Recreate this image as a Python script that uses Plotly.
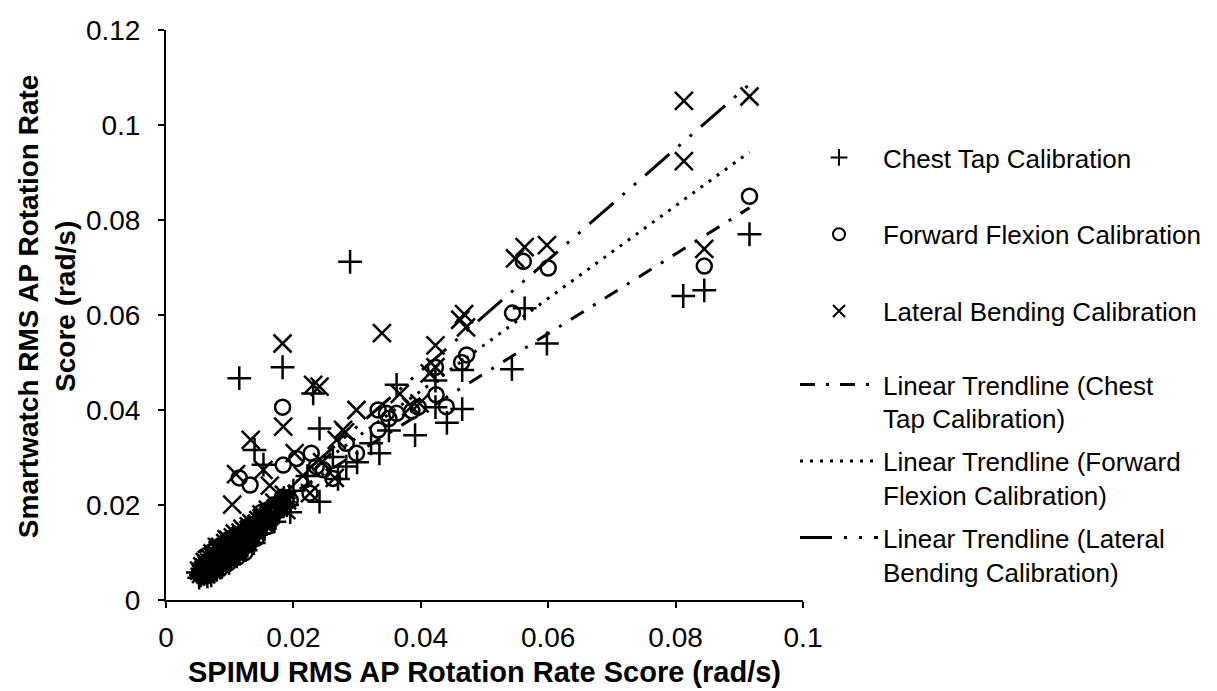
import plotly.graph_objects as go

# ---------------- data ----------------
chest_x = [0.0289, 0.0916, 0.0812, 0.0845, 0.0563, 0.0598, 0.0543, 0.0465, 0.0465, 0.0441,
           0.0391, 0.0335, 0.0183, 0.0115, 0.0231, 0.0241, 0.0350, 0.0423, 0.0362, 0.0423,
           0.0241, 0.0139, 0.0153, 0.0222, 0.0262, 0.0283, 0.0185, 0.0172, 0.0160, 0.0148,
           0.0200, 0.0270, 0.0300, 0.0322,
           0.0055, 0.0058, 0.0060, 0.0062, 0.0063, 0.0065, 0.0066, 0.0068, 0.0069, 0.0070,
           0.0072, 0.0073, 0.0075, 0.0076, 0.0078, 0.0079, 0.0080, 0.0082, 0.0083, 0.0085,
           0.0086, 0.0088, 0.0090, 0.0091, 0.0093, 0.0095, 0.0097, 0.0099, 0.0101, 0.0103,
           0.0106, 0.0109, 0.0112, 0.0115, 0.0118, 0.0122, 0.0126, 0.0130,
           0.0060, 0.0065, 0.0070, 0.0074, 0.0078, 0.0083, 0.0088, 0.0092, 0.0096, 0.0100,
           0.0104, 0.0108, 0.0113, 0.0118, 0.0123, 0.0128, 0.0134, 0.0140, 0.0146, 0.0152,
           0.0158, 0.0165, 0.0175, 0.0190, 0.0057, 0.0068, 0.0087,
           0.0050, 0.0052, 0.0064, 0.0071, 0.0080, 0.0085, 0.0094, 0.0099, 0.0107, 0.0111,
           0.0120, 0.0125, 0.0133, 0.0138, 0.0145, 0.0155, 0.0162, 0.0170, 0.0180, 0.0195]
chest_y = [0.0712, 0.0770, 0.0640, 0.0652, 0.0614, 0.0540, 0.0486, 0.0484, 0.0402, 0.0373,
           0.0347, 0.0309, 0.0490, 0.0467, 0.0435, 0.0361, 0.0357, 0.0462, 0.0453, 0.0406,
           0.0207, 0.0316, 0.0285, 0.0261, 0.0301, 0.0281, 0.0215, 0.0195, 0.0178, 0.0170,
           0.0230, 0.0255, 0.0290, 0.0330,
           0.0052, 0.0060, 0.0055, 0.0066, 0.0058, 0.0070, 0.0062, 0.0075, 0.0066, 0.0080,
           0.0071, 0.0085, 0.0077, 0.0068, 0.0090, 0.0081, 0.0074, 0.0094, 0.0086, 0.0079,
           0.0098, 0.0090, 0.0102, 0.0084, 0.0095, 0.0108, 0.0100, 0.0112, 0.0094, 0.0115,
           0.0108, 0.0120, 0.0113, 0.0126, 0.0118, 0.0132, 0.0124, 0.0140,
           0.0072, 0.0050, 0.0058, 0.0093, 0.0066, 0.0100, 0.0075, 0.0110, 0.0086, 0.0122,
           0.0098, 0.0130, 0.0104, 0.0138, 0.0115, 0.0150, 0.0130, 0.0155, 0.0140, 0.0168,
           0.0160, 0.0175, 0.0185, 0.0200, 0.0066, 0.0083, 0.0105,
           0.0058, 0.0047, 0.0080, 0.0052, 0.0103, 0.0068, 0.0118, 0.0078, 0.0125, 0.0092,
           0.0145, 0.0105, 0.0152, 0.0120, 0.0162, 0.0150, 0.0185, 0.0165, 0.0205, 0.0185]

flex_x = [0.0916, 0.0845, 0.0561, 0.0600, 0.0544, 0.0472, 0.0464, 0.0423, 0.0440, 0.0424,
          0.0396, 0.0386, 0.0362, 0.0346, 0.0333, 0.0333, 0.0350, 0.0183, 0.0299, 0.0283,
          0.0228, 0.0205, 0.0184, 0.0236, 0.0247, 0.0262, 0.0226, 0.0115, 0.0132, 0.0153,
          0.0163, 0.0150, 0.0183, 0.0170, 0.0160,
          0.0056, 0.0059, 0.0061, 0.0063, 0.0065, 0.0067, 0.0069, 0.0071, 0.0073, 0.0075,
          0.0077, 0.0079, 0.0081, 0.0083, 0.0085, 0.0087, 0.0089, 0.0092, 0.0094, 0.0097,
          0.0100, 0.0103, 0.0106, 0.0110, 0.0113, 0.0117, 0.0121, 0.0125, 0.0129, 0.0134,
          0.0140, 0.0145,
          0.0060, 0.0066, 0.0072, 0.0077, 0.0082, 0.0087, 0.0092, 0.0097, 0.0102, 0.0108,
          0.0114, 0.0120, 0.0126, 0.0132, 0.0138, 0.0150, 0.0155, 0.0160, 0.0175, 0.0058,
          0.0080,
          0.0052, 0.0062, 0.0070, 0.0078, 0.0085, 0.0090, 0.0098, 0.0105, 0.0112, 0.0118,
          0.0124, 0.0135, 0.0142, 0.0148, 0.0158, 0.0168, 0.0185, 0.0195]
flex_y = [0.0850, 0.0703, 0.0713, 0.0699, 0.0604, 0.0516, 0.0500, 0.0490, 0.0407, 0.0432,
          0.0406, 0.0398, 0.0393, 0.0393, 0.0400, 0.0358, 0.0382, 0.0406, 0.0309, 0.0330,
          0.0309, 0.0298, 0.0284, 0.0281, 0.0274, 0.0256, 0.0225, 0.0257, 0.0242, 0.0168,
          0.0165, 0.0185, 0.0217, 0.0200, 0.0190,
          0.0050, 0.0057, 0.0063, 0.0055, 0.0068, 0.0061, 0.0072, 0.0065, 0.0078, 0.0070,
          0.0083, 0.0075, 0.0088, 0.0080, 0.0093, 0.0085, 0.0097, 0.0090, 0.0102, 0.0095,
          0.0107, 0.0100, 0.0112, 0.0106, 0.0118, 0.0112, 0.0124, 0.0119, 0.0131, 0.0137,
          0.0150, 0.0156,
          0.0070, 0.0052, 0.0087, 0.0066, 0.0098, 0.0076, 0.0108, 0.0085, 0.0118, 0.0095,
          0.0128, 0.0108, 0.0140, 0.0122, 0.0142, 0.0160, 0.0172, 0.0155, 0.0190, 0.0062,
          0.0070,
          0.0055, 0.0078, 0.0054, 0.0095, 0.0066, 0.0115, 0.0078, 0.0125, 0.0090, 0.0135,
          0.0100, 0.0150, 0.0130, 0.0170, 0.0165, 0.0178, 0.0195, 0.0210]

lat_x = [0.0813, 0.0916, 0.0813, 0.0845, 0.0548, 0.0563, 0.0598, 0.0462, 0.0468, 0.0471,
         0.0339, 0.0183, 0.0423, 0.0231, 0.0241, 0.0184, 0.0299, 0.0423, 0.0133, 0.0110,
         0.0104, 0.0281, 0.0268, 0.0385, 0.0398, 0.0414, 0.0367, 0.0265, 0.0226, 0.0202,
         0.0163, 0.0153, 0.0189, 0.0278, 0.0160, 0.0170, 0.0185, 0.0215, 0.0245,
         0.0055, 0.0058, 0.0060, 0.0062, 0.0064, 0.0066, 0.0068, 0.0070, 0.0072, 0.0074,
         0.0076, 0.0078, 0.0080, 0.0082, 0.0084, 0.0086, 0.0089, 0.0091, 0.0094, 0.0097,
         0.0100, 0.0103, 0.0106, 0.0110, 0.0113, 0.0117, 0.0121, 0.0126, 0.0131, 0.0137,
         0.0143, 0.0150,
         0.0057, 0.0063, 0.0069, 0.0075, 0.0081, 0.0087, 0.0093, 0.0099, 0.0105, 0.0111,
         0.0117, 0.0123, 0.0130, 0.0136, 0.0145, 0.0155, 0.0165, 0.0178, 0.0080, 0.0095,
         0.0052, 0.0061, 0.0067, 0.0073, 0.0079, 0.0085, 0.0090, 0.0098, 0.0102, 0.0108,
         0.0114, 0.0120, 0.0127, 0.0134, 0.0140, 0.0150, 0.0160, 0.0172, 0.0190]
lat_y = [0.1051, 0.1060, 0.0924, 0.0739, 0.0719, 0.0743, 0.0747, 0.0590, 0.0602, 0.0574,
         0.0562, 0.0540, 0.0536, 0.0453, 0.0449, 0.0365, 0.0400, 0.0490, 0.0337, 0.0265,
         0.0201, 0.0353, 0.0337, 0.0407, 0.0414, 0.0477, 0.0434, 0.0257, 0.0225, 0.0309,
         0.0241, 0.0274, 0.0189, 0.0358, 0.0190, 0.0205, 0.0222, 0.0262, 0.0290,
         0.0055, 0.0062, 0.0068, 0.0060, 0.0073, 0.0066, 0.0079, 0.0071, 0.0084, 0.0077,
         0.0090, 0.0082, 0.0095, 0.0088, 0.0101, 0.0093, 0.0106, 0.0099, 0.0112, 0.0105,
         0.0118, 0.0111, 0.0124, 0.0117, 0.0130, 0.0123, 0.0137, 0.0131, 0.0145, 0.0152,
         0.0160, 0.0172,
         0.0071, 0.0054, 0.0088, 0.0064, 0.0105, 0.0078, 0.0120, 0.0090, 0.0132, 0.0103,
         0.0142, 0.0115, 0.0155, 0.0135, 0.0168, 0.0160, 0.0180, 0.0198, 0.0112, 0.0128,
         0.0062, 0.0080, 0.0058, 0.0098, 0.0070, 0.0112, 0.0084, 0.0126, 0.0098, 0.0140,
         0.0110, 0.0150, 0.0125, 0.0162, 0.0145, 0.0180, 0.0175, 0.0192, 0.0210]

# linear trendlines (slope, intercept)
trend_names = ["Linear Trendline (Chest<br>Tap Calibration)",
               "Linear Trendline (Forward<br>Flexion Calibration)",
               "Linear Trendline (Lateral<br>Bending Calibration)"]
trend_slope = [0.838, 0.975, 1.17]
trend_intercept = [0.0058, 0.0050, 0.0014]

series_names = ["Chest Tap Calibration", "Forward Flexion Calibration", "Lateral Bending Calibration"]

x_ticks = [0, 0.02, 0.04, 0.06, 0.08, 0.1]
x_tick_text = ["0", "0.02", "0.04", "0.06", "0.08", "0.1"]
y_ticks = [0, 0.02, 0.04, 0.06, 0.08, 0.1, 0.12]
y_tick_text = ["0", "0.02", "0.04", "0.06", "0.08", "0.1", "0.12"]

# ---------------- figure ----------------
FONT = "Liberation Sans, Arial, sans-serif"
fig = go.Figure()

xs = [chest_x, flex_x, lat_x]
ys = [chest_y, flex_y, lat_y]
symbols = ["cross-thin-open", "circle-open", "x-thin-open"]
sizes = [17, 15, 18]

for i in range(3):
    fig.add_trace(go.Scatter(
        x=xs[i], y=ys[i], mode="markers", name=series_names[i],
        marker=dict(symbol=symbols[i], size=sizes[i], color="black",
                    line=dict(color="black", width=2.5)),
        legend="legend", legendgroup="g%d" % i, showlegend=True))

dashes = ["15px,11px,3px,11px", "3px,7px", "32px,12px,3px,12px,3px,12px"]
for i in range(3):
    x0 = min(xs[i]); x1 = max(xs[i])
    fig.add_trace(go.Scatter(
        x=[x0, x1],
        y=[trend_slope[i] * x0 + trend_intercept[i], trend_slope[i] * x1 + trend_intercept[i]],
        mode="lines", name=trend_names[i],
        line=dict(color="black", width=3, dash=dashes[i]),
        legend="legend2", legendgroup="t%d" % i, showlegend=True))

W, H = 1217, 691
L, R, T, B = 166, W - 804, 30, H - 600
pw, ph = W - L - R, H - T - B

def px2paper_x(p):
    return (p - L) / pw

def py2paper_y(p):
    return (H - B - p) / ph

fig.update_layout(
    width=W, height=H,
    margin=dict(l=L, r=R, t=T, b=B),
    paper_bgcolor="white", plot_bgcolor="white",
    font=dict(family=FONT, size=28, color="black"),
    xaxis=dict(range=[0, 0.1], tickvals=x_ticks, ticktext=x_tick_text,
               showgrid=False, zeroline=False, showline=True, linecolor="black",
               linewidth=2, ticks="outside", ticklen=6, tickwidth=2, tickcolor="black",
               ticklabelstandoff=5,
               tickfont=dict(size=28, family=FONT, color="black")),
    yaxis=dict(range=[0, 0.12], tickvals=y_ticks, ticktext=y_tick_text,
               showgrid=False, zeroline=False, showline=True, linecolor="black",
               linewidth=2, ticks="outside", ticklen=6, tickwidth=2, tickcolor="black",
               ticklabelstandoff=12,
               tickfont=dict(size=28, family=FONT, color="black")),
    legend=dict(x=px2paper_x(795), y=py2paper_y(134), xanchor="left", yanchor="top",
                font=dict(size=26, family=FONT, color="black"),
                itemwidth=78, tracegroupgap=40, bgcolor="rgba(0,0,0,0)",
                itemsizing="constant", traceorder="grouped"),
    legend2=dict(x=px2paper_x(795), y=py2paper_y(361), xanchor="left", yanchor="top",
                 font=dict(size=26, family=FONT, color="black"),
                 itemwidth=78, tracegroupgap=6, bgcolor="rgba(0,0,0,0)",
                 valign="top", traceorder="grouped"),
    showlegend=True,
    annotations=[
        dict(text="<b>SPIMU RMS AP Rotation Rate Score (rad/s)</b>", xref="paper", yref="paper",
             x=px2paper_x(485), y=py2paper_y(672), xanchor="center", yanchor="middle",
             showarrow=False, font=dict(size=29, family=FONT, color="black")),
        dict(text="<b>Smartwatch RMS AP Rotation Rate<br>Score (rad/s)</b>", xref="paper", yref="paper",
             x=px2paper_x(46), y=py2paper_y(306), xanchor="center", yanchor="middle",
             textangle=-90, showarrow=False, font=dict(size=28, family=FONT, color="black")),
    ],
)

fig.write_html("out.html")
